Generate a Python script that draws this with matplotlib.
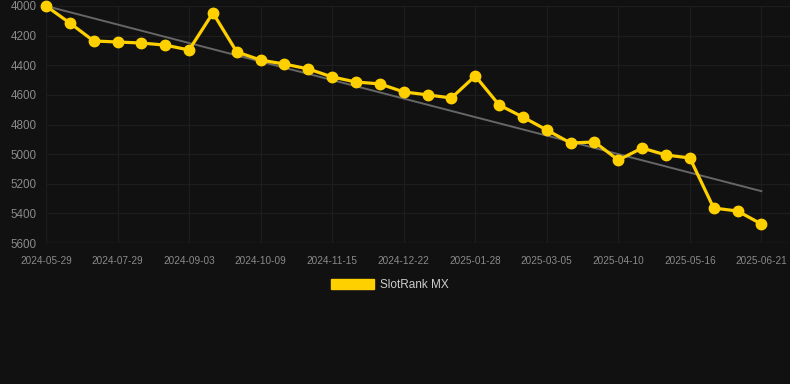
import matplotlib
matplotlib.use("Agg")
import matplotlib.pyplot as plt
from matplotlib.patches import Patch

plt.rcParams['font.family'] = ['Liberation Sans', 'DejaVu Sans']

# ===================== 数据 =====================
tick_labels = ['2024-05-29', '2024-07-29', '2024-09-03', '2024-10-09', '2024-11-15',
               '2024-12-22', '2025-01-28', '2025-03-05', '2025-04-10', '2025-05-16',
               '2025-06-21']
rank = [4000, 4115, 4236, 4243, 4250, 4264, 4297, 4047, 4310, 4365,
        4392, 4425, 4479, 4513, 4526, 4580, 4600, 4621, 4472, 4668,
        4750, 4837, 4925, 4918, 5040, 4959, 5006, 5026, 5364, 5384,
        5472]
trend_ends = [4000, 5250]
series_name = 'SlotRank MX'

BG = '#111111'
GOLD = '#FFD000'

fig = plt.figure(figsize=(7.9, 3.84), dpi=100, facecolor=BG)
ax = fig.add_axes([46 / 790, 1 - 243 / 384, 744 / 790, 237 / 384], facecolor=BG)

n = len(rank)
xs = list(range(n))
ax.plot([0, n - 1], trend_ends, color='#666666', lw=1.4, zorder=2)
ax.plot(xs, rank, color=GOLD, lw=2.3, marker='o', ms=7.5, zorder=3, clip_on=False)

ax.set_xlim(0, 31.2)
ax.set_ylim(5600, 4000)
ax.set_yticks(range(4000, 5601, 200))
ax.set_xticks(range(0, n, 3))
ax.set_xticklabels(tick_labels)
ax.tick_params(axis='y', length=0, pad=7, labelsize=8.4, colors='#8a8a8a')
ax.tick_params(axis='x', length=0, pad=9, labelsize=7.2, colors='#8a8a8a')
ax.grid(True, color='#1d1d1d', lw=0.9)
for s in ax.spines.values():
    s.set_visible(False)
ax.axhline(5600, color='#262626', lw=1)

leg = fig.legend(handles=[Patch(facecolor=GOLD, edgecolor=GOLD, label=series_name)],
                 loc='center', bbox_to_anchor=(390 / 790, 1 - 285 / 384), frameon=False,
                 handlelength=3.6, handleheight=0.9, handletextpad=0.5, fontsize=8.5)
for t in leg.get_texts():
    t.set_color('#cccccc')

fig.savefig('out.png', dpi=100, facecolor=BG)
